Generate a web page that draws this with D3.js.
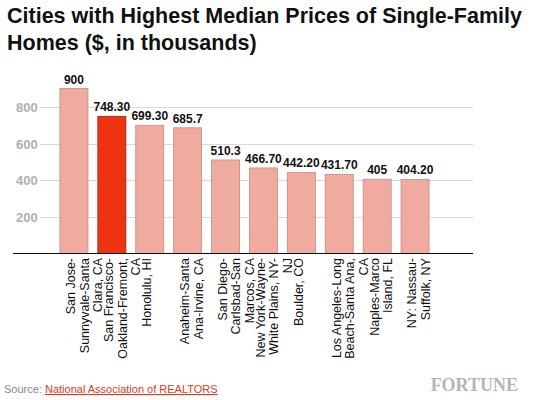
<!DOCTYPE html>
<html><head><meta charset="utf-8">
<script src="https://cdn.jsdelivr.net/npm/d3@7"></script>
<style>body{margin:0;background:#fff}</style></head>
<body><svg id="c" width="545" height="400"></svg>
<script>
const categories=[["San Jose-","Sunnyvale-Santa","Clara, CA"],["San Francisco-","Oakland-Fremont,","CA"],["Honolulu, HI"],["Anaheim-Santa","Ana-Irvine, CA"],["San Diego-","Carlsbad-San","Marcos, CA"],["New York-Wayne-","White Plains, NY-","NJ"],["Boulder, CO"],["Los Angeles-Long","Beach-Santa Ana,","CA"],["Naples-Marco","Island, FL"],["NY: Nassau-","Suffolk, NY"]];
const values=[900,748.3,699.3,685.7,510.3,466.7,442.2,431.7,405,404.2];
const valueLabels=["900","748.30","699.30","685.7","510.3","466.70","442.20","431.70","405","404.20"];
const highlight=[false,true,false,false,false,false,false,false,false,false];
const yTicks=[200,400,600,800];
const svg=d3.select("#c");
const font="'Liberation Sans',Arial,Helvetica,sans-serif";
const t=svg.append("text").attr("font-family","'Liberation Sans Narrow','Liberation Sans',Arial,sans-serif").attr("font-weight","bold").attr("font-size",21.5).attr("fill","#111");
t.append("tspan").attr("x",7).attr("y",23).text("Cities with Highest Median Prices of Single-Family");
t.append("tspan").attr("x",7).attr("y",50).text("Homes ($, in thousands)");
const y=d3.scaleLinear().domain([0,900]).range([253.5,88.5]);
const x=d3.scaleBand().domain(d3.range(values.length)).range([55,434]).paddingInner(0.26).paddingOuter(0.13);
const g=svg.append("g");
g.selectAll("line.grid").data(yTicks).join("line").attr("x1",40).attr("x2",473).attr("y1",d=>Math.round(y(d))+0.5).attr("y2",d=>Math.round(y(d))+0.5).attr("stroke","#d8d8d8");
g.selectAll("text.yt").data(yTicks).join("text").attr("x",16).attr("y",d=>y(d)+5).attr("font-family",font).attr("font-size",13).attr("font-weight","bold").attr("fill","#b0b0b0").text(d=>d);
g.selectAll("rect").data(values).join("rect").attr("x",(d,i)=>x(i)).attr("width",x.bandwidth()).attr("y",d=>y(d)).attr("height",d=>y(0)-y(d))
 .attr("fill",(d,i)=>highlight[i]?"#ee3311":"#f0aba0").attr("stroke",(d,i)=>highlight[i]?"#a02010":"#c98a80").attr("stroke-width",0.8);
g.selectAll("text.v").data(values).join("text").attr("x",(d,i)=>x(i)+x.bandwidth()/2).attr("y",d=>y(d)-5).attr("text-anchor","middle").attr("font-family",font).attr("font-size",12).attr("font-weight","bold").attr("fill","#111").text((d,i)=>valueLabels[i]);
g.append("line").attr("x1",13).attr("x2",473).attr("y1",253.5).attr("y2",253.5).attr("stroke","#111").attr("stroke-width",1);
categories.forEach((lines,i)=>{
 const cx=x(i)+x.bandwidth()/2-3;
 const tx=svg.append("text").attr("transform",`translate(${cx},258) rotate(-90)`).attr("text-anchor","end").attr("font-family",font).attr("font-size",12.5).attr("fill","#111");
 lines.forEach((l,j)=>tx.append("tspan").attr("x",0).attr("y",j*13.5).attr("dy","0.35em").text(l));
});
const s=svg.append("text").attr("x",4).attr("y",393).attr("font-family",font).attr("font-size",11);
s.append("tspan").attr("fill","#888").text("Source: ");
s.append("tspan").attr("fill","#e03a1e").attr("text-decoration","underline").text("National Association of REALTORS");
svg.append("text").attr("x",518).attr("y",391).attr("text-anchor","end").attr("font-family","'Liberation Serif','DejaVu Serif',serif").attr("font-weight","bold").attr("font-size",18).attr("fill","#b5b5b5").text("FORTUNE");
</script></body></html>
